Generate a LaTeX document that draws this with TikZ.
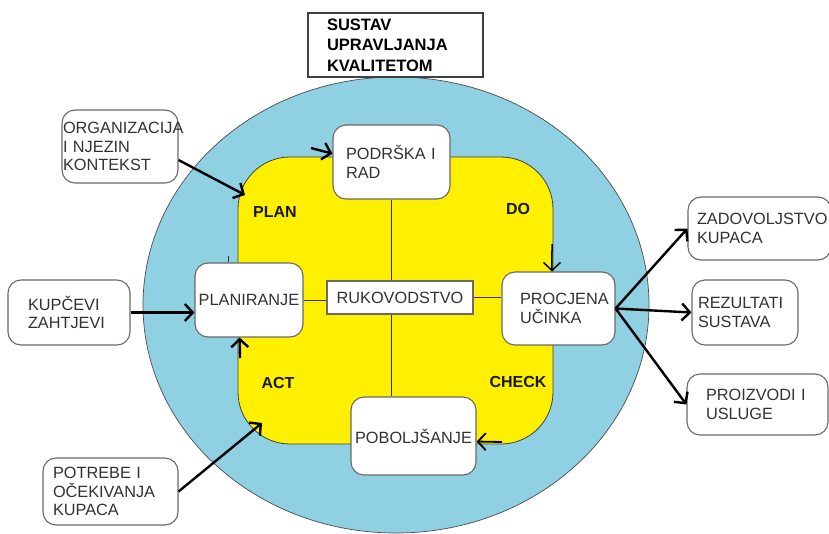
\documentclass[tikz,border=0pt]{standalone}
\usepackage{fontspec}
\setmainfont{Liberation Sans}
\usetikzlibrary{arrows.meta}

\definecolor{ringblue}{RGB}{143,208,227}
\definecolor{cycleyellow}{RGB}{255,240,0}
\definecolor{boxgray}{RGB}{105,105,105}
\definecolor{txtgray}{RGB}{50,50,50}
\newcommand{\boxfont}{\fontsize{16.3}{18.5}\selectfont}
\newcommand{\labfont}{\fontsize{16}{18}\selectfont\bfseries}
\newcommand{\headfont}{\fontsize{16.5}{20.5}\selectfont\bfseries}

\begin{document}
\begin{tikzpicture}[x=1pt, y=-1pt,
    box/.style={draw=boxgray, line width=1.1pt, fill=white, rounded corners=13pt,
        font=\boxfont, text=txtgray, align=left, inner ysep=0pt},
    headbox/.style={draw=black!75, line width=1.1pt, fill=white, font=\headfont,
        align=left, inner ysep=0pt},
    cyclelabel/.style={font=\labfont, text=black!90},
    flow/.style={-{Straight Barb[length=8pt,width=17pt]}, line width=2.4pt},
    link/.style={line width=0.9pt, black!80}]

    \useasboundingbox (0,0) rectangle (829,533);

    % Outer ring and PDCA cycle
    \draw[fill=ringblue, draw=black!70, line width=0.7pt] (396,305) ellipse [x radius=253pt, y radius=228pt];
    \draw[fill=cycleyellow, draw=black!75, line width=0.8pt, rounded corners=52pt] (238,157) rectangle (553,444);

    % Title
    \node[headbox, text width=137pt, inner xsep=19pt, minimum height=64pt] (title) at (395.5,45) {SUSTAV\\UPRAVLJANJA\\KVALITETOM};

    % Cycle boxes
    \node[box, text width=91pt, inner xsep=13pt, minimum height=74pt] (pod) at (391.5,162) {PODRŠKA I\\RAD};
    \node[box, text width=108pt, inner xsep=0pt, align=center, minimum height=74pt] (plan) at (249,300) {PLANIRANJE};
    \node[box, sharp corners, text width=146pt, inner xsep=0pt, align=center, minimum height=33pt] (ruk) at (400,297.5) {RUKOVODSTVO};
    \node[box, text width=77pt, inner xsep=18pt, minimum height=73pt] (pro) at (558.5,308.5) {PROCJENA\\UČINKA};
    \node[box, text width=125pt, inner xsep=0pt, align=center, minimum height=78pt] (pob) at (413.5,436) {POBOLJŠANJE};

    % Links to leadership
    \coordinate (tick) at (228,256);
    \draw[link] (tick) -- (tick |- plan.north);
    \draw[link] (pod.south) -- (pod.south |- ruk.north);
    \draw[link] (ruk.south -| pod.south) -- (pob.north -| pod.south);
    \draw[link] (plan.east) -- (plan.east -| ruk.west);
    \draw[link] (ruk.east) -- (ruk.east -| pro.west);

    % Inputs
    \node[box, text width=114pt, inner xsep=1pt, minimum height=73pt] (org) at (120,146.5) {ORGANIZACIJA\\I NJEZIN\\KONTEKST};
    \node[box, text width=82pt, inner xsep=20pt, minimum height=65pt] (kup) at (69,312.5) {KUPČEVI\\ZAHTJEVI};
    \node[box, text width=115pt, inner xsep=10pt, minimum height=67pt] (pot) at (110.5,491.5) {POTREBE I\\OČEKIVANJA\\KUPACA};

    % Outputs
    \node[box, text width=125pt, inner xsep=9pt, minimum height=63pt] (zad) at (759.5,228.5) {ZADOVOLJSTVO\\KUPACA};
    \node[box, text width=94pt, inner xsep=6pt, minimum height=65pt] (rez) at (745,312.5) {REZULTATI\\SUSTAVA};
    \node[box, text width=103pt, inner xsep=19pt, minimum height=61pt] (pri) at (757.5,404.5) {PROIZVODI I\\USLUGE};

    % Phase labels
    \node[cyclelabel] (lplan) at (275,212) {PLAN};
    \node[cyclelabel] (ldo) at (518,209) {DO};
    \node[cyclelabel] (lact) at (278,383) {ACT};
    \node[cyclelabel] (lcheck) at (518,382) {CHECK};

    % Arrows
    \coordinate (orgtip) at (245,195);
    \coordinate (podtail) at (311,148);
    \coordinate (dotail) at (552,244);
    \coordinate (checktail) at (502,442);
    \coordinate (acttail) at (240,358);
    \coordinate (acttip) at (262,423);
    \draw[flow] (org.-13) -- (orgtip);
    \draw[flow] (podtail) -- (pod.172);
    \draw[flow, line width=1.5pt] (dotail) -- (pro.100);
    \draw[flow, line width=1.8pt] (checktail) -- (pob.-5);
    \draw[flow] (acttail) -- (plan.-104);
    \draw[flow] (kup.east) -- (kup.east -| plan.west);
    \draw[flow] (pot.east) -- (acttip);
    \draw[flow] (pro.east) -- (zad.west);
    \draw[flow] (pro.east) -- (rez.west);
    \draw[flow] (pro.east) -- (pri.west);
\end{tikzpicture}
\end{document}
